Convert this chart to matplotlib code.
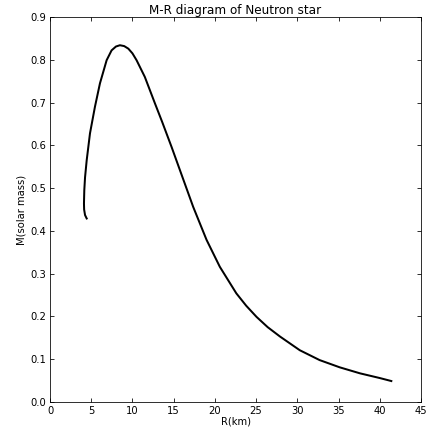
import matplotlib
matplotlib.use("Agg")
import matplotlib.pyplot as plt

R_km = [4.45, 4.25, 4.14, 4.12, 4.16, 4.25, 4.45, 4.85, 5.45, 6.06, 6.87, 7.47, 8.0, 8.48,
        9.0, 9.5, 10.0, 10.5, 11.5, 12.73, 13.6, 14.75, 15.76, 17.37, 18.99, 20.6, 22.6,
        23.8, 25.05, 26.4, 27.9, 30.3, 32.7, 35.15, 37.6, 40.0, 41.4]
M_sun = [0.429, 0.437, 0.45, 0.464, 0.495, 0.525, 0.565, 0.628, 0.690, 0.745, 0.799, 0.822, 0.831, 0.834,
         0.832, 0.826, 0.815, 0.799, 0.760, 0.698, 0.655, 0.596, 0.542, 0.456, 0.379, 0.316, 0.254,
         0.225, 0.199, 0.175, 0.153, 0.121, 0.098, 0.081, 0.067, 0.056, 0.049]
title = "M-R diagram of Neutron star"
xlabel = "R(km)"
ylabel = "M(solar mass)"

fig = plt.figure(figsize=(6, 427/72), dpi=72)
ax = fig.add_axes([50/432, 1-402/427, 371/432, 385/427])
ax.plot(R_km, M_sun, color="black", lw=2, solid_joinstyle="round")
ax.set_xlim(0, 45)
ax.set_ylim(0, 0.9)
ax.set_xticks(range(0, 46, 5))
ax.set_yticks([i/10 for i in range(10)])
ax.yaxis.set_major_formatter(matplotlib.ticker.FormatStrFormatter('%.1f'))
ax.tick_params(direction="in", top=True, right=True, length=4, labelsize=10, pad=4)
ax.set_title(title, fontsize=12, pad=3)
ax.set_xlabel(xlabel, fontsize=10, labelpad=0)
ax.set_ylabel(ylabel, fontsize=10, labelpad=4)
fig.savefig("out.png", dpi=72)
